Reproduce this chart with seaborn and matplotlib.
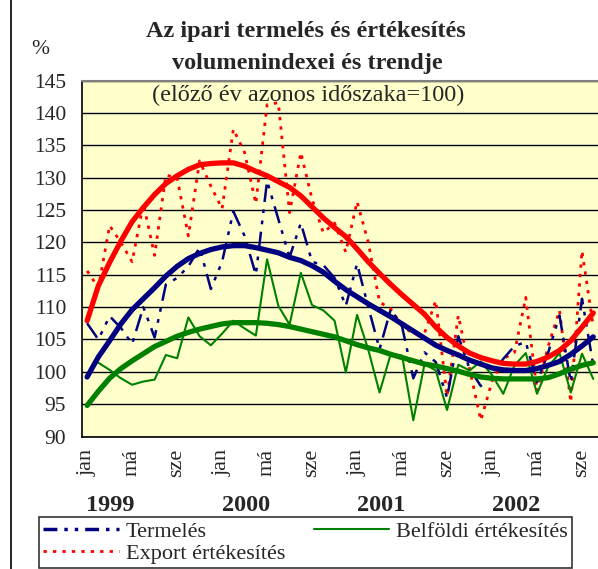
import numpy as np
import pandas as pd
import matplotlib
matplotlib.use("Agg")
import matplotlib.pyplot as plt
from matplotlib.lines import Line2D
import seaborn as sns

# monthly data, 1999 jan - 2002 okt
termeles = [107.5, 105.0, 108.6, 106.8, 104.3, 110.0, 105.3, 113.5, 114.5, 116.3,
            119.2, 112.8, 117.0, 124.8, 121.0, 115.0, 129.5, 123.6, 117.7, 123.0,
            117.0, 116.5, 114.5, 110.2, 116.7, 110.0, 103.5, 109.7, 107.0, 99.0,
            103.0, 101.5, 96.0, 105.5, 100.5, 97.8, 99.8, 102.0, 104.0, 104.6,
            98.4, 103.0, 108.7, 98.4, 111.3, 101.0]
belfoldi = [np.nan, 101.4, 100.3, 99.0, 98.0, 98.5, 98.8, 102.6, 102.1, 108.4,
            105.5, 104.1, 105.9, 107.9, 106.7, 105.6, 117.4, 110.2, 107.3, 115.3,
            110.3, 109.5, 107.9, 99.9, 108.8, 103.4, 96.8, 102.8, 102.5, 92.5,
            101.2, 100.2, 94.1, 101.1, 100.2, 101.6, 99.5, 96.6, 101.0, 102.9,
            96.6, 100.8, 102.9, 96.8, 102.8, 98.9]
export = [115.6, 113.0, 122.6, 120.0, 117.0, 126.0, 118.0, 130.4, 130.0, 121.0,
          132.6, 128.7, 125.2, 137.5, 133.9, 126.0, 141.3, 141.6, 124.6, 133.9,
          126.7, 121.5, 123.0, 118.5, 126.3, 120.0, 110.8, 109.7, 107.1, 105.9,
          106.0, 111.0, 96.2, 108.7, 100.5, 92.5, 98.5, 102.0, 103.0, 111.5,
          97.0, 104.0, 109.5, 95.3, 118.7, 107.0]
trend_termeles = [99.2, 102.3, 104.8, 107.4, 109.6, 111.3, 113.0, 114.8, 116.3, 117.5,
                  118.3, 118.9, 119.3, 119.5, 119.5, 119.2, 118.8, 118.4, 117.7, 117.2,
                  116.4, 115.4, 114.0, 112.7, 111.6, 110.5, 109.5, 108.5, 107.4, 106.3,
                  105.2, 104.1, 103.3, 102.6, 101.8, 101.2, 100.6, 100.3, 100.2, 100.2,
                  100.5, 101.0, 101.6, 102.7, 104.0, 105.4]
trend_belfoldi = [94.8, 97.0, 99.0, 100.5, 101.7, 102.8, 103.9, 104.7, 105.5, 106.1,
                  106.6, 107.0, 107.4, 107.6, 107.6, 107.6, 107.5, 107.3, 107.0, 106.6,
                  106.2, 105.8, 105.4, 104.8, 104.2, 103.7, 103.3, 102.7, 102.2, 101.7,
                  101.2, 100.9, 100.5, 100.1, 99.6, 99.2, 99.0, 98.9, 98.9, 98.9,
                  98.9, 99.1, 99.7, 100.4, 101.0, 101.4]
trend_export = [107.9, 113.3, 116.9, 120.2, 123.2, 125.4, 127.4, 129.1, 130.3, 131.3,
                132.0, 132.2, 132.3, 132.3, 131.8, 131.0, 130.3, 129.4, 128.5, 127.2,
                125.5, 123.8, 122.3, 120.9, 119.0, 117.0, 115.2, 113.5, 111.9, 110.4,
                108.9, 106.9, 105.3, 104.0, 102.9, 102.2, 101.7, 101.3, 101.2, 101.2,
                101.6, 102.3, 103.3, 104.8, 106.9, 109.1]
month_labels = ["jan", "má", "sze"]
years = ["1999", "2000", "2001", "2002"]

df = pd.DataFrame({
    "idx": np.arange(len(termeles)),
    "Termelés": termeles,
    "Belföldi értékesítés": belfoldi,
    "Export értékesítés": export,
    "t_term": trend_termeles,
    "t_belf": trend_belfoldi,
    "t_exp": trend_export,
})

sns.set_style("white")
plt.rcParams["font.family"] = ["Liberation Serif", "DejaVu Serif"]

navy, green, red = "#000080", "#008000", "#ff0000"

fig = plt.figure(figsize=(5.98, 5.69), dpi=100)
ax = fig.add_axes([81.5 / 598, 1 - 436.5 / 569, 518.5 / 598, 355.8 / 569])
ax.set_facecolor("#ffffcc")

# thin series
sns.lineplot(data=df, x="idx", y="Export értékesítés", ax=ax, color=red, lw=2,
             linestyle=(0, (1.2, 2.2)))
sns.lineplot(data=df, x="idx", y="Termelés", ax=ax, color=navy, lw=1.8,
             linestyle=(0, (7, 3, 1.5, 3, 1.5, 3)))
sns.lineplot(data=df, x="idx", y="Belföldi értékesítés", ax=ax, color=green, lw=1.5)
# trends
sns.lineplot(data=df, x="idx", y="t_exp", ax=ax, color=red, lw=3.8)
sns.lineplot(data=df, x="idx", y="t_term", ax=ax, color=navy, lw=3.8)
sns.lineplot(data=df, x="idx", y="t_belf", ax=ax, color=green, lw=3.8)

ax.set_xlim(-0.5, 45.6)
ax.set_ylim(90, 145)
ax.set_yticks(np.arange(90, 146, 5))
ax.yaxis.grid(True, color="black", lw=1)
ax.set_axisbelow(True)
ax.set_xlabel("")
ax.set_ylabel("")

n = len(termeles)
ax.set_xticks(np.arange(0, n, 4))
ax.set_xticklabels([month_labels[(i // 4) % 3] for i in range(0, n, 4)],
                   rotation=90, fontsize=16)
ax.set_xticks(np.arange(-0.5, n, 1), minor=True)
ax.tick_params(axis="x", which="major", length=0, pad=9)
ax.tick_params(axis="x", which="minor", length=5, width=1, direction="out", color="black")
ax.tick_params(axis="y", length=5, width=1, direction="out", color="black",
               labelsize=15.5, pad=6)

for s in ["left", "bottom"]:
    ax.spines[s].set_color("black")
    ax.spines[s].set_linewidth(1.2)
ax.spines["top"].set_color("#808080")
ax.spines["top"].set_linewidth(1.5)
ax.spines["right"].set_visible(False)

for k, yr in enumerate(years):
    ax.text(12 * k + 2.1, -0.195, yr, transform=ax.get_xaxis_transform(),
            ha="center", va="center", fontsize=17.5, fontweight="bold")

fig.text(306 / 598, 1 - 31 / 569, "Az ipari termelés és értékesítés",
         ha="center", va="center", fontsize=17.5, fontweight="bold")
fig.text(307 / 598, 1 - 63 / 569, "volumenindexei és trendje",
         ha="center", va="center", fontsize=17.5, fontweight="bold")
fig.text(308 / 598, 1 - 95 / 569, "(előző év azonos időszaka=100)",
         ha="center", va="center", fontsize=17.5)
fig.text(40 / 598, 1 - 50 / 569, "%", ha="center", va="center", fontsize=15.5)

# chart area border on the left
fig.add_artist(Line2D([10.5 / 598, 10.5 / 598], [0, 1], color="black", lw=1.2))

handles = [
    Line2D([], [], color=navy, lw=2.5, linestyle=(0, (4, 2, 1, 2, 1, 2))),
    Line2D([], [], color=red, lw=2, linestyle=(0, (1.2, 2.2))),
    Line2D([], [], color=green, lw=1.5),
]
labels = ["Termelés", "Export értékesítés", "Belföldi értékesítés"]
leg = fig.legend(handles, labels, ncol=2, loc="upper left",
                 bbox_to_anchor=(39 / 598, 1 - 517 / 569), fontsize=16,
                 frameon=True, fancybox=False, edgecolor="black",
                 handlelength=3.4, handletextpad=0.3, columnspacing=1.3,
                 labelspacing=0.05, borderpad=0.2, borderaxespad=0)
leg.get_frame().set_linewidth(1.2)

fig.savefig("out.png", dpi=100)
